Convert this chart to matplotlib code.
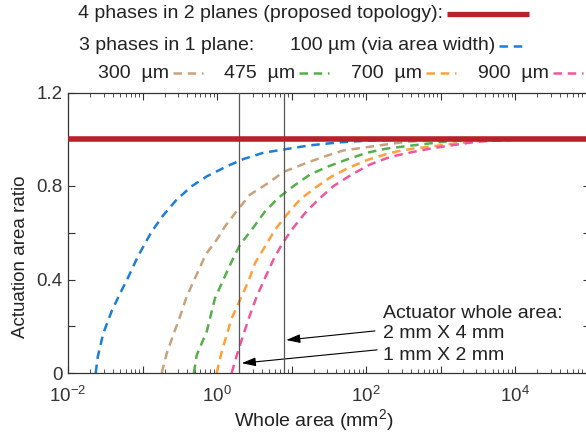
import numpy as np
import matplotlib.pyplot as plt
from matplotlib.lines import Line2D
from matplotlib.ticker import FixedLocator, LogLocator, NullFormatter

plt.rcParams['font.family'] = ['Liberation Sans', 'DejaVu Sans']
plt.rcParams['font.size'] = 14

# x given as log10 of whole area (mm^2)
blue_logA = [-1.628, -1.60, -1.526, -1.413, -1.302, -1.191, -1.06, -0.877, -0.721, -0.541,
             -0.340, -0.138, 0.130, 0.353, 0.621, 0.890, 1.248, 1.651, 2.009, 2.456, 3.0, 5.0]
blue_ratio = [0.0, 0.07, 0.17, 0.265, 0.34, 0.41, 0.50, 0.605, 0.675, 0.742,
              0.799, 0.841, 0.884, 0.915, 0.942, 0.956, 0.974, 0.987, 0.994, 0.998, 1.0, 1.0]

tan_logA = [-0.742, -0.675, -0.587, -0.497, -0.407, -0.295, -0.184, -0.138, -0.004, 0.107,
            0.27, 0.443, 0.689, 0.89, 1.204, 1.450, 1.695, 1.987, 2.278, 2.564, 3.2, 5.0]
tan_ratio = [0.0, 0.084, 0.163, 0.241, 0.327, 0.406, 0.484, 0.513, 0.570, 0.627,
             0.695, 0.763, 0.813, 0.86, 0.899, 0.927, 0.952, 0.965, 0.978, 0.990, 0.999, 1.0]

green_logA = [-0.31, -0.272, -0.138, -0.027, 0.085, 0.197, 0.309, 0.466, 0.644, 0.823, 1.024,
              1.248, 1.494, 1.741, 2.009, 2.278, 2.635, 2.903, 3.083, 3.5, 5.0]
green_ratio = [0.0, 0.077, 0.177, 0.320, 0.399, 0.477, 0.549, 0.613, 0.691, 0.749, 0.799,
               0.849, 0.884, 0.913, 0.942, 0.960, 0.974, 0.984, 0.991, 0.998, 1.0]

orange_logA = [-0.004, 0.063, 0.130, 0.197, 0.309, 0.420, 0.510, 0.644, 0.779, 0.936, 1.114,
               1.315, 1.540, 1.762, 2.031, 2.299, 2.479, 2.635, 2.903, 3.083, 3.5, 4.0, 5.0]
orange_ratio = [0.0, 0.091, 0.163, 0.234, 0.313, 0.391, 0.470, 0.541, 0.613, 0.677, 0.742,
                0.792, 0.841, 0.877, 0.913, 0.939, 0.952, 0.960, 0.970, 0.978, 0.992, 0.998, 1.0]

pink_logA = [0.197, 0.26, 0.35, 0.443, 0.533, 0.644, 0.756, 0.868, 1.003, 1.181, 1.360,
             1.561, 1.808, 2.054, 2.322, 2.501, 2.681, 2.903, 3.083, 3.5, 4.0, 5.0]
pink_ratio = [0.0, 0.07, 0.16, 0.249, 0.327, 0.406, 0.484, 0.549, 0.613, 0.684, 0.742,
              0.799, 0.849, 0.892, 0.924, 0.937, 0.949, 0.962, 0.971, 0.99, 0.998, 1.0]

proposed_area = [1e-2, 1e5]
proposed_ratio = [1.0, 1.0]

marked_areas = [2, 8]  # 1 mm x 2 mm, 2 mm x 4 mm

via_labels = ['300  µm', '475  µm', '700  µm', '900  µm']
via_colors = ['#c8a27c', '#55b04a', '#ffa03c', '#f0569c']
blue = '#1c7ed6'
red = '#b8202a'
txt = '#222222'

W, H = 586, 437
fig = plt.figure(figsize=(W / 100, H / 100), dpi=100)
ax = fig.add_axes([68 / W, (H - 373) / H, 521.5 / W, 280.5 / H])

dash = (0, (3.4, 2.3))
lw = 1.8
ax.plot(10 ** np.array(blue_logA), blue_ratio, color=blue, lw=lw, ls=dash)
curves = [(tan_logA, tan_ratio), (green_logA, green_ratio),
          (orange_logA, orange_ratio), (pink_logA, pink_ratio)]
for (lx, ly), c in zip(curves, via_colors):
    ax.plot(10 ** np.array(lx), ly, color=c, lw=lw, ls=dash)

ax.plot(proposed_area, proposed_ratio, color=red, lw=4.0, solid_capstyle='butt', zorder=5)

for a in marked_areas:
    ax.axvline(a, color='#555555', lw=0.9, zorder=4)

ax.set_xscale('log')
ax.set_xlim(1e-2, 1e5)
ax.set_ylim(0, 1.2)

ax.xaxis.set_major_locator(FixedLocator([10.0 ** k for k in range(-2, 6)]))
ax.xaxis.set_minor_locator(LogLocator(base=10, subs=np.arange(2, 10)))
ax.xaxis.set_minor_formatter(NullFormatter())
ax.set_xticklabels(['$\\mathregular{10^{%d}}$' % k if k % 2 == 0 else '' for k in range(-2, 6)])
ax.set_yticks(np.arange(0, 1.21, 0.2))
ax.set_yticklabels(['0', '', '0.4', '', '0.8', '', '1.2'])

ax.tick_params(which='both', direction='in', top=True, right=True, colors='#333333',
               labelcolor='#333333', labelsize=13.5)
ax.tick_params(which='major', length=5, width=0.8)
ax.tick_params(which='minor', length=3, width=0.6)
ax.tick_params(axis='x', pad=9)
ax.tick_params(axis='y', pad=4)
for s in ax.spines.values():
    s.set_color('#333333')
    s.set_linewidth(0.9)

ax.set_xlabel('Whole area (mm$\\mathregular{^2}$)', color=txt)
ax.xaxis.set_label_coords((314 - 68) / 521.5, (373 - 407) / 280.5)
ax.set_ylabel('Actuation area ratio', color=txt, fontsize=13.5)
ax.yaxis.set_label_coords((29 - 68) / 521.5, (373 - 257) / 280.5)

# annotations
arrow = dict(arrowstyle='-|>,head_length=0.7,head_width=0.22', color='black', lw=0.8,
             shrinkA=0, shrinkB=0, mutation_scale=12)
ax.annotate('', xy=(8.5, 0.141), xytext=(132, 0.18), arrowprops=arrow)
ax.annotate('', xy=(2.15, 0.042), xytext=(141, 0.099), arrowprops=arrow)
ax.text(169, 0.235, 'Actuator whole area:', va='baseline', ha='left', color=txt)
ax.text(169, 0.150, '2 mm X 4 mm', va='baseline', ha='left', color=txt)
ax.text(169, 0.056, '1 mm X 2 mm', va='baseline', ha='left', color=txt)


# legend rows at the top, placed in pixel positions
def fx(px):
    return px / W


def fy(py):
    return 1 - py / H


renderer = fig.canvas.get_renderer()


def key(px, py, label, length, **style):
    t = fig.text(fx(px), fy(py), label, va='center', ha='left', color=txt)
    x1 = t.get_window_extent(renderer).x1
    fig.add_artist(Line2D([(x1 + 4) / W, (x1 + 4 + length) / W], [fy(py), fy(py)], **style))


key(78, 14, '4 phases in 2 planes (proposed topology):', 82, color=red, lw=3.8,
    solid_capstyle='butt')
fig.text(fx(79), fy(46), '3 phases in 1 plane:', va='center', ha='left', color=txt)
key(290, 46, '100 µm (via area width)', 24, color=blue, lw=lw, ls=dash)

row3_x = [98, 224, 351, 478]
for x0, lab, c in zip(row3_x, via_labels, via_colors):
    key(x0, 73, lab, 30, color=c, lw=lw, ls=dash)

fig.savefig('out.png', dpi=100)
